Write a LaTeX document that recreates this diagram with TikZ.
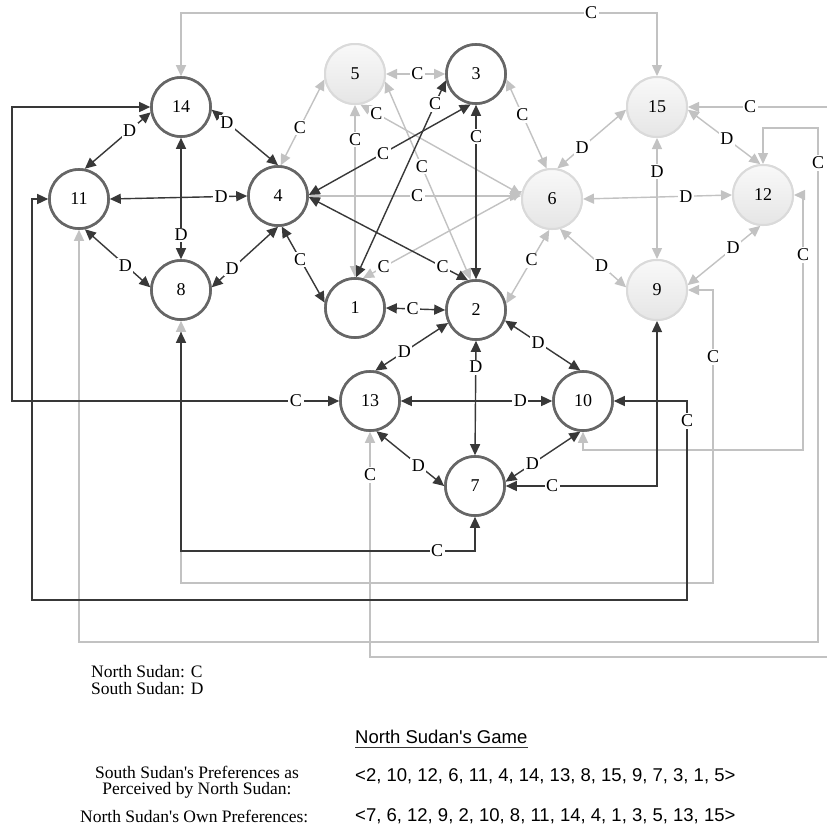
\documentclass[tikz,border=0pt]{standalone}
\usepackage{fontspec}
\setmainfont{Liberation Serif}
\newfontfamily\serf{Liberation Serif}
\newfontfamily\sansf{Liberation Sans}
\usetikzlibrary{arrows.meta}
\definecolor{dk}{HTML}{383838}
\definecolor{lt}{HTML}{C2C2C2}
\definecolor{nb}{HTML}{666666}
\definecolor{gb}{HTML}{DADADA}
\begin{document}
\begin{tikzpicture}[x=1pt,y=-1pt,
  dn/.style={circle, draw=nb, line width=2.6pt, fill=white, minimum size=59pt, inner sep=0pt, font=\serf\fontsize{18}{18}\selectfont},
  ln/.style={circle, draw=gb, line width=2pt, top color=gray!5, bottom color=gray!20, minimum size=60pt, inner sep=0pt, font=\serf\fontsize{18}{18}\selectfont},
  tip/.tip={Triangle[length=11pt,width=10pt]},
  de/.style={draw=dk, line width=1.4pt, tip-tip},
  le/.style={draw=lt, line width=1.4pt, tip-tip},
  lbl/.style={fill=white, inner sep=1.5pt, font=\serf\fontsize{18}{18}\selectfont},
  txt/.style={inner sep=0pt, font=\serf\fontsize{17.5}{16}\selectfont},
  stxt/.style={inner sep=0pt, font=\sansf\fontsize{18.5}{18}\selectfont},
]
\useasboundingbox (0,0) rectangle (827,836);
\fill[white] (0,0) rectangle (827,836);
\clip (0,0) rectangle (827,836);

% node coordinates
\coordinate (p14) at (181,107);
\coordinate (p11) at (79,199);
\coordinate (p4) at (278,196);
\coordinate (p8) at (181,290);
\coordinate (p5) at (355,74);
\coordinate (p3) at (476,74);
\coordinate (p6) at (552,199);
\coordinate (p15) at (657,107);
\coordinate (p12) at (763,195);
\coordinate (p9) at (657,290);
\coordinate (p1) at (355,308);
\coordinate (p2) at (476,310);
\coordinate (p13) at (370,401);
\coordinate (p10) at (583,401);
\coordinate (p7) at (475,486);

% place nodes first (for anchors); drawn again on top later
\path
  node[dn] (n14) at (p14) {14}
  node[dn] (n11) at (p11) {11}
  node[dn] (n4) at (p4) {4}
  node[dn] (n8) at (p8) {8}
  node[ln] (n5) at (p5) {5}
  node[dn] (n3) at (p3) {3}
  node[ln] (n6) at (p6) {6}
  node[ln] (n15) at (p15) {15}
  node[ln] (n12) at (p12) {12}
  node[ln] (n9) at (p9) {9}
  node[dn] (n1) at (p1) {1}
  node[dn] (n2) at (p2) {2}
  node[dn] (n13) at (p13) {13}
  node[dn] (n10) at (p10) {10}
  node[dn] (n7) at (p7) {7};

% ---------- light edges ----------
\draw[le] (n5.190) -- coordinate[pos=.56] (c7) (n4.85);
\draw[le] (n5.south) -- coordinate[pos=.2] (c8) (n1.north);
\draw[le] (n5.east) -- coordinate[pos=.53] (c9) (n3.west);
\draw[le] (n5.-80) -- coordinate[pos=.1] (c10) (n6.172);
\draw[le] (n5.-14) -- coordinate[pos=.43] (c11) (n2.100);
\draw[le] (n4.east) -- coordinate[pos=.51] (c12) (n4.east -| n6.west);
\draw[le] (n1.75) -- coordinate[pos=.13] (c13) (n6.165);
\draw[le] (n3.-10) -- coordinate[pos=.4] (c14) (n6.100);
\draw[le] (n6.-95) -- coordinate[pos=.41] (c15) (n2.12);
\draw[le] (n6.80) -- coordinate[pos=.36] (d13) (n15.185);
\draw[le] (n6.east) -- coordinate[pos=.69] (d14) (n12.west);
\draw[le] (n6.-75) -- coordinate[pos=.63] (d15) (n9.175);
\draw[le] (n15.south) -- coordinate[pos=.28] (d16) (n9.north);
\draw[le] (n15.-5) -- coordinate[pos=.54] (d17) (n12.95);
\draw[le] (n12.-95) -- coordinate[pos=.375] (d18) (n9.9);

\coordinate (e1) at (181,13);  \coordinate (e2) at (657,13);
\draw[le] (n14.north) -- (e1) -- (e2) -- (n15.north);
\coordinate (f1) at (840,107); \coordinate (f2) at (840,657); \coordinate (f3) at (370,657);
\draw[le] (n15.east) -- (f1) -- (f2) -- (f3) -- (n13.south);
\coordinate (g1) at (763,128); \coordinate (g2) at (818,128); \coordinate (g3) at (818,642); \coordinate (g4) at (79,642);
\draw[le] (n12.north) -- (g1) -- (g2) -- (g3) -- (g4) -- (n11.south);
\coordinate (h1) at (803,195); \coordinate (h2) at (803,450); \coordinate (h3) at (583,450);
\draw[le] (n12.east) -- (h1) -- (h2) -- (h3) -- (n10.south);
\coordinate (k1) at (713,290); \coordinate (k2) at (713,583); \coordinate (k3) at (181,583);
\draw[le] (n9.east) -- (k1) -- (k2) -- (k3) -- (n8.south);

% ---------- dark edges ----------
\draw[de] (n14.190) -- coordinate[pos=.32] (d1) (n11.79);
\draw[de] (n14.-5) -- coordinate[pos=.23] (d2) (n4.90);
\draw[de] (n14.south) -- coordinate[pos=.80] (d3) (n8.north);
\draw[de] (n11.east) -- coordinate[pos=.81] (d4) (n4.west);
\draw[de] (n11.-79) -- coordinate[pos=.62] (d5) (n8.175);
\draw[de] (n8.5) -- coordinate[pos=.31] (d6) (n4.-90);
\draw[de] (n4.-83) -- coordinate[pos=.43] (c1) (n1.170);
\draw[de] (n4.2) -- coordinate[pos=.46] (c2) (n3.-100);
\draw[de] (n4.-2) -- coordinate[pos=.84] (c3) (n2.105);
\draw[de] (n1.88) -- coordinate[pos=.88] (c4) (n3.192);
\draw[de] (n3.south) -- coordinate[pos=.18] (c5) (n2.north);
\draw[de] (n1.east) -- coordinate[pos=.45] (c6) (n2.west);
\draw[de] (n2.-155) -- coordinate[pos=.6] (d7) (n13.80);
\draw[de] (n2.-20) -- coordinate[pos=.44] (d8) (n10.95);
\draw[de] (n2.south) -- coordinate[pos=.23] (d9) (n7.north);
\draw[de] (n13.east) -- coordinate[pos=.79] (d10) (n10.west);
\draw[de] (n13.-78) -- coordinate[pos=.62] (d11) (n7.180);
\draw[de] (n10.-95) -- coordinate[pos=.64] (d12) (n7.8);

\draw[de] (n9.south) |- (n7.east);
\coordinate (m1) at (181,551);
\draw[de, shorten <=11pt] (n8.south) -- (m1) -| (n7.south);
\coordinate (q1) at (12,107); \coordinate (q2) at (12,401);
\draw[de] (n14.west) -- (q1) -- (q2) -- (n13.west);
\coordinate (r1) at (32,199); \coordinate (r2) at (32,600); \coordinate (r3) at (687,600); \coordinate (r4) at (687,401);
\draw[de] (n11.west) -- (r1) -- (r2) -- (r3) -- (r4) -- (n10.east);

% ---------- nodes ----------
\node[dn] at (p14) {14};
\node[dn] at (p11) {11};
\node[dn] at (p4) {4};
\node[dn] at (p8) {8};
\node[ln] at (p5) {5};
\node[dn] at (p3) {3};
\node[ln] at (p6) {6};
\node[ln] at (p15) {15};
\node[ln] at (p12) {12};
\node[ln] at (p9) {9};
\node[dn] at (p1) {1};
\node[dn] at (p2) {2};
\node[dn] at (p13) {13};
\node[dn] at (p10) {10};
\node[dn] at (p7) {7};

% ---------- labels ----------
\foreach \n in {d1,d2,d3,d4,d5,d6,d7,d8,d9,d10,d11,d12,d13,d14,d15,d16,d17,d18}
  \node[lbl] at (\n) {D};
\foreach \n in {c1,c2,c3,c4,c5,c6,c7,c8,c9,c10,c11,c12,c13,c14,c15}
  \node[lbl] at (\n) {C};
\node[lbl] (l1) at (552,486) {C};
\node[lbl] (l2) at (437,551) {C};
\node[lbl] (l3) at (296,401) {C};
\node[lbl] (l4) at (687,421) {C};
\node[lbl] (l5) at (591,13) {C};
\node[lbl] (l6) at (750,107) {C};
\node[lbl] (l7) at (370,475) {C};
\node[lbl] (l8) at (818,163) {C};
\node[lbl] (l9) at (803,255) {C};
\node[lbl] (l10) at (713,357) {C};

% ---------- text ----------
\node[txt, anchor=west] (t1) at (91,672) {North Sudan: C};
\node[txt, anchor=west] (t2) at (91,689) {South Sudan: D};
\node[stxt, anchor=base west] (game) at (355,743) {North Sudan's Game};
\draw[dk, line width=1.3pt] ([yshift=-4.5pt]game.base west) -- ([yshift=-4.5pt]game.base east);
\node[txt, align=center] (t3) at (197,782) {South Sudan's Preferences as\\Perceived by North Sudan:};
\node[txt, anchor=west] (t4) at (80,816) {North Sudan's Own Preferences:};
\node[stxt, anchor=west] (t5) at (355,776) {<2, 10, 12, 6, 11, 4, 14, 13, 8, 15, 9, 7, 3, 1, 5>};
\node[stxt, anchor=west] (t6) at (355,816) {<7, 6, 12, 9, 2, 10, 8, 11, 14, 4, 1, 3, 5, 13, 15>};
\end{tikzpicture}
\end{document}
